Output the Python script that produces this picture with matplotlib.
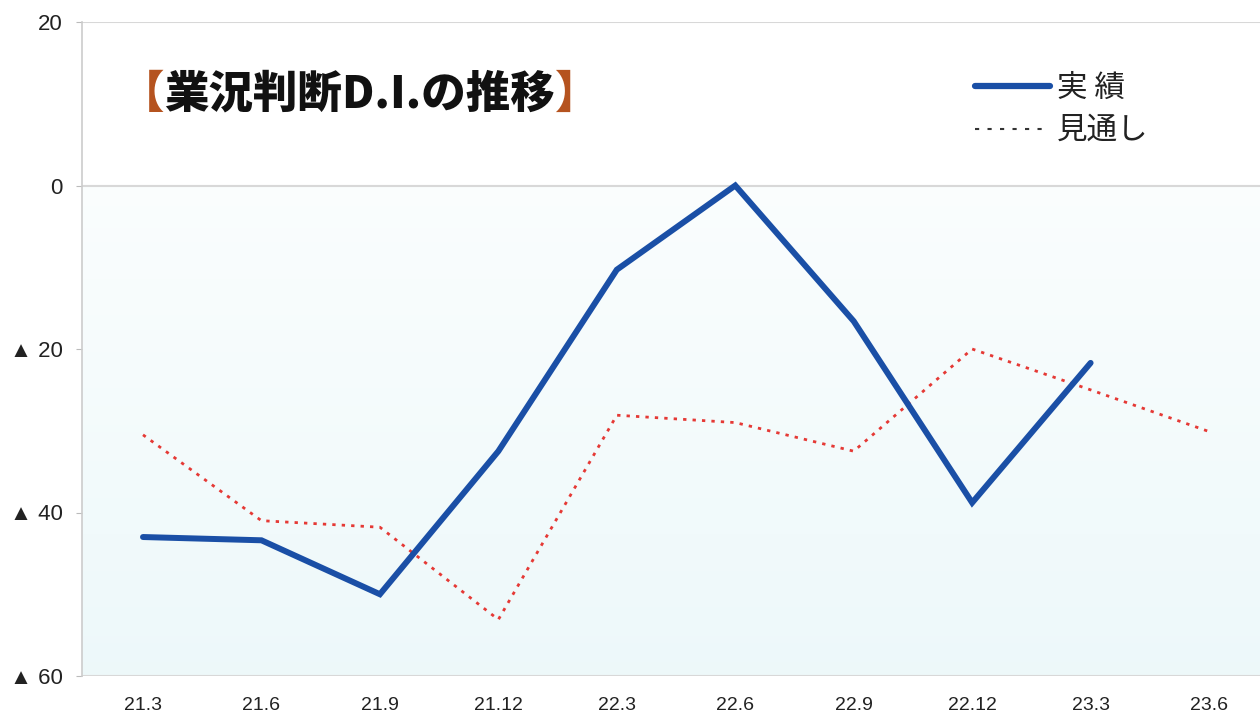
import matplotlib.pyplot as plt
import numpy as np
from matplotlib.lines import Line2D

plt.rcParams['font.family'] = ['Liberation Sans', 'Noto Sans CJK JP', 'DejaVu Sans']

quarters = ["21.3", "21.6", "21.9", "21.12", "22.3", "22.6", "22.9", "22.12", "23.3", "23.6"]
actual = [-43.0, -43.4, -50.0, -32.5, -10.3, 0.0, -16.6, -38.8, -21.7]
outlook = [-30.5, -41.0, -41.8, -53.1, -28.1, -29.0, -32.5, -20.0, -25.0, -30.1]
yticks = [20, 0, -20, -40, -60]
ytick_labels = ["20", "0", "▲ 20", "▲ 40", "▲ 60"]

fig = plt.figure(figsize=(12.6, 7.14), dpi=100)
ax = fig.add_axes([82 / 1260, 38 / 714, 1178 / 1260, 654 / 714])

x = np.arange(len(quarters))
ax.set_xlim(-0.515, 9.43)
ax.set_ylim(-60, 20)

# background gradient, white at top to pale cyan at bottom
grad = np.linspace(0, 1, 256).reshape(-1, 1)
top = np.array([1.0, 1.0, 1.0])
bottom = np.array([0.93, 0.975, 0.98])
img = top + (bottom - top) * grad[:, :, None] * np.ones((1, 1, 3))
img[: int(256 * 20 / 80)] = 1.0
ax.imshow(img, extent=[0, 1, 0, 1], transform=ax.transAxes, aspect='auto', zorder=0)

for yv in [20, 0, -60]:
    ax.axhline(yv, color='#d8d8d8', lw=1.5, zorder=1)

ax.plot(x[:len(actual)], actual, color='#1a4fa6', lw=4.3, solid_capstyle='round',
        solid_joinstyle='miter', zorder=3)
ax.plot(x, outlook, color='#e53935', lw=2.0, linestyle=(0, (1.2, 2.2)), zorder=2)

ax.set_xticks(x)
ax.set_xticklabels(quarters, fontsize=14)
ax.set_yticks(yticks)
ax.set_yticklabels(ytick_labels, fontsize=16)
ax.tick_params(axis='x', length=0, pad=15, colors='#222222')
ax.tick_params(axis='y', length=4, color='#bbbbbb', pad=10, colors='#222222')
for s in ['top', 'right', 'bottom']:
    ax.spines[s].set_visible(False)
ax.spines['left'].set_color('#cccccc')
ax.spines['left'].set_linewidth(1.2)

# title, pieces placed one after the other
fig.canvas.draw()
renderer = fig.canvas.get_renderer()
ty = 1 - 94 / 714
xpos = 120 / 1260
pieces = [("【", '#b5531f'), ("業況判断D.I.の推移", '#111111'), ("】", '#b5531f')]
for txt, col in pieces:
    t = fig.text(xpos, ty, txt, fontsize=32, fontweight='heavy', color=col,
                 va='center', ha='left', family=['Noto Sans CJK JP'])
    bb = t.get_window_extent(renderer)
    xpos = bb.x1 / 1260

# legend
fig.add_artist(Line2D([975 / 1260, 1050 / 1260], [1 - 86 / 714, 1 - 86 / 714],
                      color='#1a4fa6', lw=4.5, solid_capstyle='round'))
fig.text(1057 / 1260, 1 - 88 / 714, "実 績", fontsize=22, color='#222222', va='center',
         family=['Noto Sans CJK JP'])
fig.add_artist(Line2D([975 / 1260, 1043 / 1260], [1 - 129 / 714, 1 - 129 / 714],
                      color='#333333', lw=1.5, linestyle=(0, (2, 4))))
fig.text(1057 / 1260, 1 - 130 / 714, "見通し", fontsize=22, color='#222222', va='center',
         family=['Noto Sans CJK JP'])

fig.savefig("out.png", dpi=100)
